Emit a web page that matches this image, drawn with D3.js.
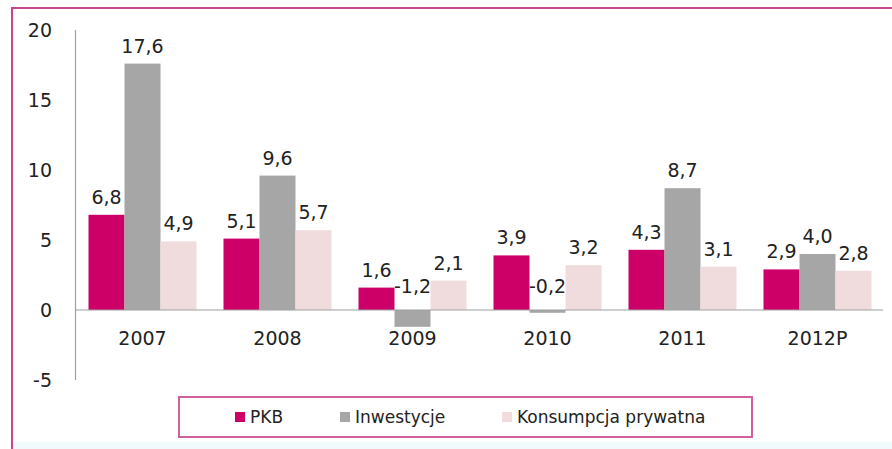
<!DOCTYPE html>
<html>
<head>
<meta charset="utf-8">
<script src="https://cdn.jsdelivr.net/npm/d3@7"></script>
<style>
  html, body { margin: 0; padding: 0; background: #fff; }
  svg { display: block; }
  text { font-family: "DejaVu Sans", sans-serif; fill: #222; }
</style>
</head>
<body>
<svg id="chart" width="892" height="449"></svg>
<script>
// Growth rates, % year on year
const years = ["2007", "2008", "2009", "2010", "2011", "2012P"];
const pkb = [6.8, 5.1, 1.6, 3.9, 4.3, 2.9];
const inwestycje = [17.6, 9.6, -1.2, -0.2, 8.7, 4.0];
const konsumpcja = [4.9, 5.7, 2.1, 3.2, 3.1, 2.8];
const seriesNames = ["PKB", "Inwestycje", "Konsumpcja prywatna"];
const yTicks = [-5, 0, 5, 10, 15, 20];

const colors = ["#cc0066", "#a6a6a6", "#f0dcdc"];
const seriesValues = [pkb, inwestycje, konsumpcja];

const svg = d3.select("#chart");
const W = 892, H = 449;
const FS = 19;

// frame and background
svg.append("rect").attr("x", 0).attr("y", 0).attr("width", W).attr("height", H).attr("fill", "#fff");
svg.append("rect").attr("x", 13).attr("y", 442).attr("width", W).attr("height", 10).attr("fill", "#f1fafa");
svg.append("rect").attr("x", 12).attr("y", 8).attr("width", W + 20).attr("height", H + 20)
  .attr("fill", "none").attr("stroke", "#c8468e").attr("stroke-width", 2);

const x0 = d3.scaleBand().domain(years).range([75, 885]).paddingInner(0.2).paddingOuter(0.1);
const x1 = d3.scaleBand().domain(d3.range(seriesNames.length)).range([0, x0.bandwidth()]);
const y = d3.scaleLinear().domain([-5, 20]).range([380, 30]);

const fmt = v => d3.format(".1f")(v).replace(".", ",").replace("−", "-");

// bars
const groups = svg.append("g").selectAll("g").data(years).join("g")
  .attr("transform", d => `translate(${x0(d)},0)`);

groups.each(function(yr, i) {
  const g = d3.select(this);
  seriesValues.forEach((vals, s) => {
    const v = vals[i];
    g.append("rect")
      .attr("x", x1(s))
      .attr("width", x1.bandwidth())
      .attr("y", Math.min(y(v), y(0)))
      .attr("height", Math.abs(y(v) - y(0)))
      .attr("fill", colors[s]);
  });
});

// y axis (labels only, with a plain line)
const yAxis = d3.axisLeft(y).tickValues(yTicks).tickSize(0).tickPadding(0)
  .tickFormat(d => d3.format("d")(d).replace("−", "-"));
const ya = svg.append("g").attr("transform", "translate(52,0)").call(yAxis);
ya.select(".domain").remove();
ya.selectAll("text").attr("font-size", FS).attr("font-family", "DejaVu Sans, sans-serif").attr("fill", "#222").attr("dy", "0.36em");

svg.append("line").attr("x1", 75.5).attr("x2", 75.5).attr("y1", y(20)).attr("y2", y(-5))
  .attr("stroke", "#a0a0a0").attr("stroke-width", 1.2);
svg.append("line").attr("x1", 75).attr("x2", 883).attr("y1", y(0)).attr("y2", y(0))
  .attr("stroke", "#a0a0a0").attr("stroke-width", 1.2);

// category labels
const xAxis = d3.axisBottom(x0).tickSize(0).tickPadding(0);
const xa = svg.append("g").attr("transform", `translate(0,${y(0)})`).call(xAxis);
xa.select(".domain").remove();
xa.selectAll("text").attr("font-size", FS).attr("font-family", "DejaVu Sans, sans-serif").attr("fill", "#222")
  .attr("y", 35).attr("dy", 0);

// value labels
groups.each(function(yr, i) {
  const g = d3.select(this);
  seriesValues.forEach((vals, s) => {
    const v = vals[i];
    g.append("text")
      .attr("x", x1(s) + x1.bandwidth() / 2)
      .attr("y", v >= 0 ? y(v) - 11 : y(0) - 17)
      .attr("text-anchor", "middle")
      .attr("font-size", FS)
      .text(fmt(v));
  });
});

// legend
const legend = svg.append("g");
legend.append("rect").attr("x", 179).attr("y", 397).attr("width", 573).attr("height", 40)
  .attr("fill", "#fff").attr("stroke", "#d0609a").attr("stroke-width", 2);
const legendX = [235, 340, 502];
seriesNames.forEach((name, s) => {
  legend.append("rect").attr("x", legendX[s]).attr("y", 412).attr("width", 10).attr("height", 10)
    .attr("fill", colors[s]);
  legend.append("text").attr("x", legendX[s] + 15).attr("y", 423).attr("font-size", 17).text(name);
});
</script>
</body>
</html>
